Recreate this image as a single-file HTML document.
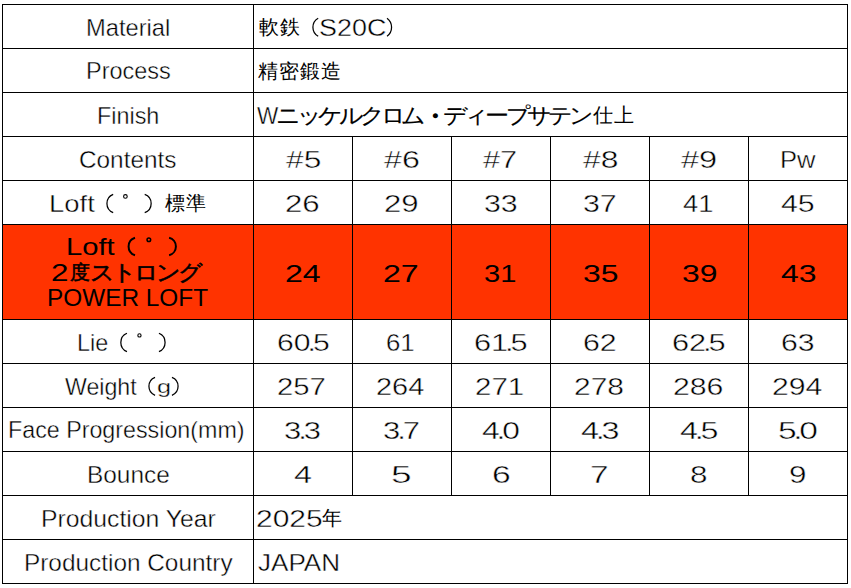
<!DOCTYPE html>
<html><head><meta charset="utf-8"><style>
html,body{margin:0;padding:0;background:#fff}
body{position:relative;font-family:"Liberation Sans",sans-serif;color:#000}
.p{position:absolute;white-space:nowrap;transform-origin:0 0}
.dot{margin:0 -2.4px}
.b{-webkit-text-stroke:0px #ff3300}
.t{-webkit-text-stroke:0.4px #fff}
.bk{-webkit-text-stroke:0.5px #000}
.kn{-webkit-text-stroke:0.15px #000}
.ks{transform:scale(1.2,1.1)}
.k{position:absolute;display:flex;justify-content:center;white-space:nowrap}
html,body{width:851px;height:588px;overflow:hidden}
.hl{position:absolute;left:2px;width:846px;height:1px;background:#000}
.vl{position:absolute;width:1px;background:#000}
.or{position:absolute;background:#ff3300}
</style></head><body>
<div class="or" style="left:3px;top:225px;width:844px;height:94px"></div>
<div class="hl" style="top:4px"></div>
<div class="hl" style="top:48px"></div>
<div class="hl" style="top:92px"></div>
<div class="hl" style="top:136px"></div>
<div class="hl" style="top:180px"></div>
<div class="hl" style="top:224px"></div>
<div class="hl" style="top:319px"></div>
<div class="hl" style="top:363px"></div>
<div class="hl" style="top:407px"></div>
<div class="hl" style="top:451px"></div>
<div class="hl" style="top:495px"></div>
<div class="hl" style="top:539px"></div>
<div class="hl" style="top:583px"></div>
<div class="vl" style="left:2px;top:4px;height:580px"></div>
<div class="vl" style="left:253px;top:4px;height:580px"></div>
<div class="vl" style="left:847px;top:4px;height:580px"></div>
<div class="vl" style="left:352px;top:136px;height:360px"></div>
<div class="vl" style="left:451px;top:136px;height:360px"></div>
<div class="vl" style="left:550px;top:136px;height:360px"></div>
<div class="vl" style="left:649px;top:136px;height:360px"></div>
<div class="vl" style="left:748px;top:136px;height:360px"></div>
<div class="p t" style="left:86.02px;top:15.60px;font-size:24px;line-height:24px;transform:scale(0.9877,1.0000);">Material</div>
<div class="p t" style="left:86.05px;top:59.40px;font-size:24px;line-height:24px;transform:scale(0.9762,1.0000);">Process</div>
<div class="p t" style="left:97.45px;top:103.60px;font-size:24px;line-height:24px;transform:scale(0.9733,1.0000);">Finish</div>
<div class="p t" style="left:79.19px;top:147.50px;font-size:24px;line-height:24px;transform:scale(1.0138,1.0000);">Contents</div>
<div class="p t" style="left:48.71px;top:191.60px;font-size:24px;line-height:24px;transform:scale(1.1432,1.0000);">Loft</div>
<div class="p t" style="left:77.45px;top:331.30px;font-size:24px;line-height:24px;transform:scale(0.9759,1.0000);">Lie</div>
<div class="p t" style="left:65.03px;top:374.60px;font-size:24px;line-height:24px;transform:scale(0.9653,1.0000);">Weight</div>
<div class="p t" style="left:8.46px;top:418.10px;font-size:24px;line-height:24px;transform:scale(0.9692,1.0000);">Face Progression(mm)</div>
<div class="p t" style="left:87.37px;top:462.60px;font-size:24px;line-height:24px;transform:scale(1.0167,1.0000);">Bounce</div>
<div class="p t" style="left:40.84px;top:506.70px;font-size:24px;line-height:24px;transform:scale(1.0309,1.0000);">Production Year</div>
<div class="p t" style="left:23.87px;top:550.80px;font-size:24px;line-height:24px;transform:scale(1.0153,1.0000);">Production Country</div>
<div class="p t" style="left:318.96px;top:15.50px;font-size:24px;line-height:24px;transform:scale(1.1214,1.0000);">S20C</div>
<div class="p t" style="left:257.36px;top:103.60px;font-size:24px;line-height:24px;transform:scale(0.9381,1.0000);">W</div>
<div class="p t" style="left:256.30px;top:506.50px;font-size:24px;line-height:24px;transform:scale(1.2500,1.0000);">2025</div>
<div class="p t" style="left:257.71px;top:550.70px;font-size:24px;line-height:24px;transform:scale(1.0861,1.0000);">JAPAN</div>
<div class="p b" style="left:65.67px;top:234.60px;font-size:24px;line-height:24px;transform:scale(1.2158,1.0000);">Loft</div>
<div class="p b" style="left:51.28px;top:260.50px;font-size:24px;line-height:24px;transform:scale(1.3100,1.0000);">2</div>
<div class="p b" style="left:47.27px;top:286.30px;font-size:24px;line-height:24px;transform:scale(1.0147,1.0000);">POWER LOFT</div>
<div class="p t" style="left:156.85px;top:377.67px;font-size:24px;line-height:24px;transform:scale(1.0545,0.7611);">g</div>
<svg width="851" height="588" style="position:absolute;left:0;top:0" fill="none" stroke="#000"><path d="M318.18 18.27A10.38 10.38 0 0 0 318.18 36.33" stroke-width="1.25"/><path d="M387.02 18.27A11.23 11.23 0 0 1 387.02 36.33" stroke-width="1.25"/><path d="M113.17 194.38A9.79 9.79 0 0 0 113.17 212.62" stroke-width="1.25"/><path d="M144.72 194.38A9.68 9.68 0 0 1 144.72 212.62" stroke-width="1.25"/><path d="M126.97 333.27A9.92 9.92 0 0 0 126.97 351.62" stroke-width="1.25"/><path d="M158.93 333.27A9.92 9.92 0 0 1 158.93 351.62" stroke-width="1.25"/><path d="M155.07 377.38A9.62 9.62 0 0 0 155.07 395.32" stroke-width="1.25"/><path d="M171.93 377.38A9.62 9.62 0 0 1 171.93 395.32" stroke-width="1.25"/><path d="M135.00 237.70A9.18 9.18 0 0 0 135.00 255.20" stroke-width="2.0"/><path d="M169.10 237.70A9.03 9.03 0 0 1 169.10 255.20" stroke-width="2.0"/><circle cx="125.40" cy="196.45" r="1.82" stroke-width="1.1"/><circle cx="139.45" cy="335.40" r="1.62" stroke-width="1.1"/><circle cx="148.85" cy="239.70" r="1.82" stroke-width="1.5"/></svg>
<div class="p t" style="left:285.58px;top:147.60px;font-size:24px;line-height:24px;transform:scale(1.3208,1.0000);">#5</div>
<div class="p t" style="left:384.26px;top:147.60px;font-size:24px;line-height:24px;transform:scale(1.3417,1.0000);">#6</div>
<div class="p t" style="left:483.32px;top:147.60px;font-size:24px;line-height:24px;transform:scale(1.2792,1.0000);">#7</div>
<div class="p t" style="left:582.88px;top:147.60px;font-size:24px;line-height:24px;transform:scale(1.3250,1.0000);">#8</div>
<div class="p t" style="left:681.25px;top:147.60px;font-size:24px;line-height:24px;transform:scale(1.3542,1.0000);">#9</div>
<div class="p t" style="left:780.07px;top:147.60px;font-size:24px;line-height:24px;transform:scale(1.0645,1.0000);">Pw</div>
<div class="p t" style="left:285.40px;top:191.70px;font-size:24px;line-height:24px;transform:scale(1.3000,1.0000);">26</div>
<div class="p t" style="left:384.21px;top:191.70px;font-size:24px;line-height:24px;transform:scale(1.2957,1.0000);">29</div>
<div class="p t" style="left:484.44px;top:191.70px;font-size:24px;line-height:24px;transform:scale(1.2625,1.0000);">33</div>
<div class="p t" style="left:583.34px;top:191.70px;font-size:24px;line-height:24px;transform:scale(1.2625,1.0000);">37</div>
<div class="p t" style="left:682.56px;top:191.70px;font-size:24px;line-height:24px;transform:scale(1.1375,1.0000);">41</div>
<div class="p t" style="left:781.34px;top:191.70px;font-size:24px;line-height:24px;transform:scale(1.2625,1.0000);">45</div>
<div class="p b" style="left:284.62px;top:262.10px;font-size:24px;line-height:24px;transform:scale(1.3375,1.0000);">24</div>
<div class="p b" style="left:382.52px;top:262.10px;font-size:24px;line-height:24px;transform:scale(1.3375,1.0000);">27</div>
<div class="p b" style="left:483.69px;top:262.10px;font-size:24px;line-height:24px;transform:scale(1.2120,1.0000);">31</div>
<div class="p b" style="left:582.67px;top:262.10px;font-size:24px;line-height:24px;transform:scale(1.3280,1.0000);">35</div>
<div class="p b" style="left:681.67px;top:262.10px;font-size:24px;line-height:24px;transform:scale(1.3280,1.0000);">39</div>
<div class="p b" style="left:780.67px;top:262.10px;font-size:24px;line-height:24px;transform:scale(1.3320,1.0000);">43</div>
<div class="p t" style="left:276.55px;top:330.90px;font-size:24px;line-height:24px;transform:scale(1.2550,1.0000);">60<span class="dot">.</span>5</div>
<div class="p t" style="left:385.73px;top:330.90px;font-size:24px;line-height:24px;transform:scale(1.0750,1.0000);">61</div>
<div class="p t" style="left:474.02px;top:330.90px;font-size:24px;line-height:24px;transform:scale(1.2800,1.0000);">61<span class="dot">.</span>5</div>
<div class="p t" style="left:583.34px;top:330.90px;font-size:24px;line-height:24px;transform:scale(1.2625,1.0000);">62</div>
<div class="p t" style="left:671.72px;top:330.90px;font-size:24px;line-height:24px;transform:scale(1.2800,1.0000);">62<span class="dot">.</span>5</div>
<div class="p t" style="left:781.14px;top:330.90px;font-size:24px;line-height:24px;transform:scale(1.2583,1.0000);">63</div>
<div class="p t" style="left:276.96px;top:374.60px;font-size:24px;line-height:24px;transform:scale(1.2189,1.0000);">257</div>
<div class="p t" style="left:376.19px;top:374.60px;font-size:24px;line-height:24px;transform:scale(1.2054,1.0000);">264</div>
<div class="p t" style="left:475.14px;top:374.60px;font-size:24px;line-height:24px;transform:scale(1.2278,1.0000);">271</div>
<div class="p t" style="left:574.21px;top:374.60px;font-size:24px;line-height:24px;transform:scale(1.2459,1.0000);">278</div>
<div class="p t" style="left:672.88px;top:374.60px;font-size:24px;line-height:24px;transform:scale(1.2595,1.0000);">286</div>
<div class="p t" style="left:771.99px;top:374.60px;font-size:24px;line-height:24px;transform:scale(1.2568,1.0000);">294</div>
<div class="p t" style="left:284.31px;top:418.50px;font-size:24px;line-height:24px;transform:scale(1.2885,1.0000);">3<span class="dot">.</span>3</div>
<div class="p t" style="left:383.01px;top:418.50px;font-size:24px;line-height:24px;transform:scale(1.2885,1.0000);">3<span class="dot">.</span>7</div>
<div class="p t" style="left:482.08px;top:418.50px;font-size:24px;line-height:24px;transform:scale(1.3231,1.0000);">4<span class="dot">.</span>0</div>
<div class="p t" style="left:580.65px;top:418.50px;font-size:24px;line-height:24px;transform:scale(1.3462,1.0000);">4<span class="dot">.</span>3</div>
<div class="p t" style="left:680.06px;top:418.50px;font-size:24px;line-height:24px;transform:scale(1.3423,1.0000);">4<span class="dot">.</span>5</div>
<div class="p t" style="left:777.51px;top:418.50px;font-size:24px;line-height:24px;transform:scale(1.3960,1.0000);">5<span class="dot">.</span>0</div>
<div class="p t" style="left:293.65px;top:462.50px;font-size:24px;line-height:24px;transform:scale(1.3455,1.0000);">4</div>
<div class="p t" style="left:390.52px;top:462.50px;font-size:24px;line-height:24px;transform:scale(1.5400,1.0000);">5</div>
<div class="p t" style="left:492.20px;top:462.50px;font-size:24px;line-height:24px;transform:scale(1.4000,1.0000);">6</div>
<div class="p t" style="left:590.02px;top:462.50px;font-size:24px;line-height:24px;transform:scale(1.3900,1.0000);">7</div>
<div class="p t" style="left:690.09px;top:462.50px;font-size:24px;line-height:24px;transform:scale(1.3091,1.0000);">8</div>
<div class="p t" style="left:789.49px;top:462.50px;font-size:24px;line-height:24px;transform:scale(1.3091,1.0000);">9</div>
<div class="k" style="left:258.20px;top:16.90px;width:21px;font-size:20.0px;line-height:20.0px;">軟</div>
<div class="k" style="left:279.20px;top:16.90px;width:21px;font-size:20.0px;line-height:20.0px;">鉄</div>
<div class="k" style="left:257.70px;top:60.80px;width:21.07px;font-size:20.0px;line-height:20.0px;">精</div>
<div class="k" style="left:278.77px;top:60.80px;width:21.07px;font-size:20.0px;line-height:20.0px;">密</div>
<div class="k" style="left:299.84px;top:60.80px;width:21.07px;font-size:20.0px;line-height:20.0px;">鍛</div>
<div class="k" style="left:320.91px;top:60.80px;width:21.07px;font-size:20.0px;line-height:20.0px;">造</div>
<div class="k kn ks" style="left:277.60px;top:105.00px;width:20.98px;font-size:20.0px;line-height:20.0px;">ニ</div>
<div class="k kn ks" style="left:298.58px;top:105.00px;width:20.98px;font-size:20.0px;line-height:20.0px;">ッ</div>
<div class="k kn ks" style="left:319.56px;top:105.00px;width:20.98px;font-size:20.0px;line-height:20.0px;">ケ</div>
<div class="k kn ks" style="left:340.54px;top:105.00px;width:20.98px;font-size:20.0px;line-height:20.0px;">ル</div>
<div class="k kn ks" style="left:361.52px;top:105.00px;width:20.98px;font-size:20.0px;line-height:20.0px;">ク</div>
<div class="k kn ks" style="left:382.50px;top:105.00px;width:20.98px;font-size:20.0px;line-height:20.0px;">ロ</div>
<div class="k kn ks" style="left:403.48px;top:105.00px;width:20.98px;font-size:20.0px;line-height:20.0px;">ム</div>
<div class="k" style="left:424.46px;top:100.00px;width:20.98px;font-size:32.0px;line-height:32.0px;">・</div>
<div class="k kn ks" style="left:445.44px;top:105.00px;width:20.98px;font-size:20.0px;line-height:20.0px;">デ</div>
<div class="k kn ks" style="left:466.42px;top:105.00px;width:20.98px;font-size:20.0px;line-height:20.0px;">ィ</div>
<div class="k kn ks" style="left:487.40px;top:105.00px;width:20.98px;font-size:20.0px;line-height:20.0px;">ー</div>
<div class="k kn ks" style="left:508.38px;top:105.00px;width:20.98px;font-size:20.0px;line-height:20.0px;">プ</div>
<div class="k kn ks" style="left:529.36px;top:105.00px;width:20.98px;font-size:20.0px;line-height:20.0px;">サ</div>
<div class="k kn ks" style="left:550.34px;top:105.00px;width:20.98px;font-size:20.0px;line-height:20.0px;">テ</div>
<div class="k kn ks" style="left:571.32px;top:105.00px;width:20.98px;font-size:20.0px;line-height:20.0px;">ン</div>
<div class="k" style="left:592.30px;top:105.00px;width:20.98px;font-size:20.0px;line-height:20.0px;">仕</div>
<div class="k" style="left:613.28px;top:105.00px;width:20.98px;font-size:20.0px;line-height:20.0px;">上</div>
<div class="k" style="left:321.70px;top:507.90px;width:21px;font-size:20.0px;line-height:20.0px;">年</div>
<div class="k" style="left:164.00px;top:193.00px;width:21px;font-size:20.0px;line-height:20.0px;">標</div>
<div class="k" style="left:185.00px;top:193.00px;width:21px;font-size:20.0px;line-height:20.0px;">準</div>
<div class="k bk" style="left:69.00px;top:261.90px;width:22px;font-size:20.0px;line-height:20.0px;">度</div>
<div class="k bk ks" style="left:91.00px;top:261.90px;width:22px;font-size:20.0px;line-height:20.0px;">ス</div>
<div class="k bk ks" style="left:113.00px;top:261.90px;width:22px;font-size:20.0px;line-height:20.0px;">ト</div>
<div class="k bk ks" style="left:135.00px;top:261.90px;width:22px;font-size:20.0px;line-height:20.0px;">ロ</div>
<div class="k bk ks" style="left:157.00px;top:261.90px;width:22px;font-size:20.0px;line-height:20.0px;">ン</div>
<div class="k bk ks" style="left:179.00px;top:261.90px;width:22px;font-size:20.0px;line-height:20.0px;">グ</div>
</body></html>
